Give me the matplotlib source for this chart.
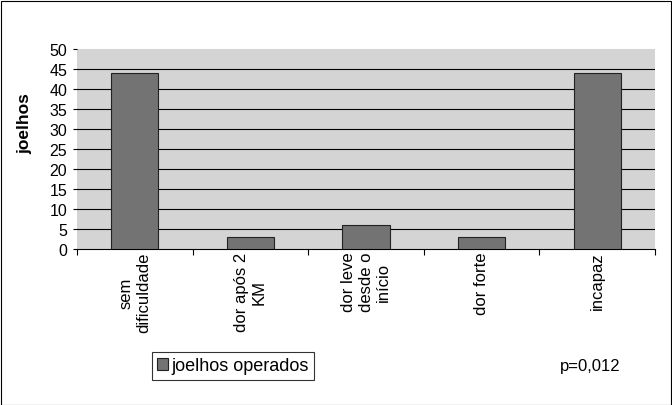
import matplotlib.pyplot as plt
from matplotlib.patches import Rectangle

categories = ["sem\ndificuldade", "dor após 2\nKM", "dor leve\ndesde o\ninício", "dor forte", "incapaz"]
values = [44, 3, 6, 3, 44]
series_name = "joelhos operados"
p_text = "p=0,012"

plt.rcParams["font.family"] = ["Liberation Sans", "DejaVu Sans"]

fig = plt.figure(figsize=(6.72, 4.06), dpi=100)
ax = fig.add_axes([77 / 672, 1 - 250 / 406, (655 - 77) / 672, 200 / 406])

ax.set_facecolor("#d4d4d4")
x = range(len(categories))
ax.bar(x, values, width=0.41, color="#737373", edgecolor="#222222", linewidth=0.8,
       label=series_name, zorder=3)

ax.set_xlim(-0.5, len(categories) - 0.5)
ax.set_ylim(0, 50)
ax.set_yticks(range(0, 51, 5))
ax.tick_params(axis="y", labelsize=11.5, length=3, width=0.8, pad=4)
for yv in range(5, 50, 5):
    ax.axhline(yv, color="black", linewidth=0.8, zorder=1)

ax.set_xticks([i + 0.5 for i in range(-1, len(categories))])
ax.set_xticklabels([])
ax.tick_params(axis="x", length=4, width=0.8, direction="out")
for i, lab in enumerate(categories):
    ax.text(i, -0.7, lab, rotation=90, ha="center", va="top", multialignment="center",
            fontsize=12, linespacing=1.2, transform=ax.transData)

for s in ["top", "right", "left"]:
    ax.spines[s].set_visible(False)
ax.spines["bottom"].set_linewidth(0.8)

fig.text(25 / 672, 1 - 124 / 406, "joelhos", fontsize=12.5, fontweight="bold",
         rotation=90, ha="center", va="center")

leg = fig.legend(loc="center left", bbox_to_anchor=(152 / 672, 1 - 367 / 406), fontsize=13,
                 frameon=True, fancybox=False, edgecolor="black", handlelength=0.6,
                 handleheight=0.6, handletextpad=0.15, borderpad=0.3, borderaxespad=0)
leg.get_frame().set_linewidth(0.8)

fig.text(560 / 672, 1 - 367 / 406, p_text, fontsize=12, va="center", ha="left")

fig.patches.append(Rectangle((0.5 / 672, 0.5 / 406), 670 / 672, 404 / 406, transform=fig.transFigure,
                             fill=False, edgecolor="black", linewidth=0.8))

fig.savefig("out.png", dpi=100)
